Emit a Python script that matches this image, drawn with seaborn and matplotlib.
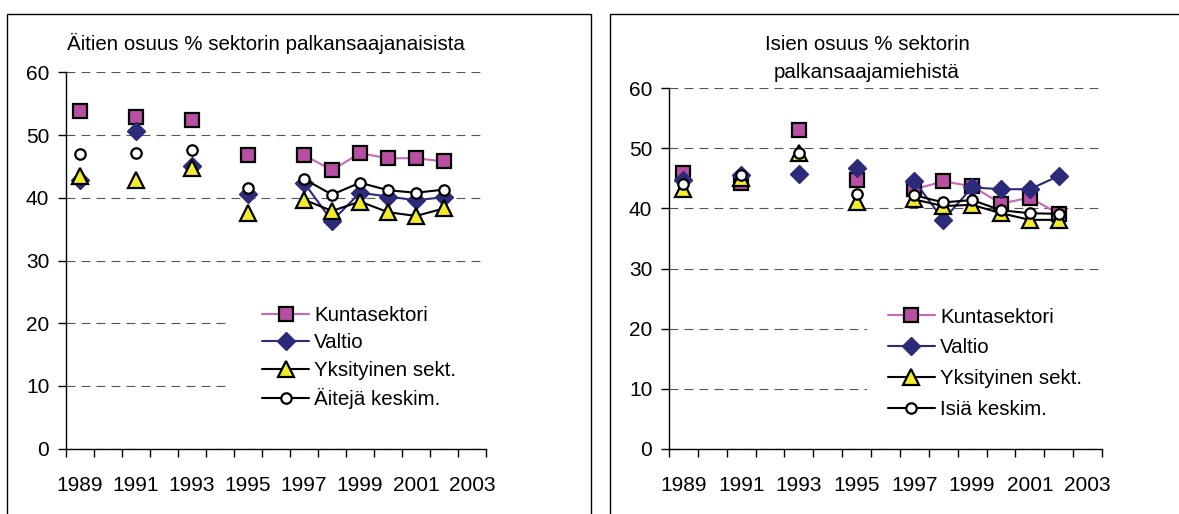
import numpy as np
import pandas as pd
import matplotlib
matplotlib.use("Agg")
import matplotlib.pyplot as plt
from matplotlib.lines import Line2D
from matplotlib.patches import Rectangle
from matplotlib.ticker import MultipleLocator, FixedLocator
import seaborn as sns

# ---------------- data ----------------
categories = list(range(1989, 2004))          # category axis 1989..2003
data_years = [1989, 1991, 1993, 1995, 1997, 1998, 1999, 2000, 2001, 2002]
tick_labels = ["1989", "1991", "1993", "1995", "1997", "1999", "2001", "2003"]

# Mothers (left panel)
kunta_aidit = [53.8, 52.8, 52.4, 46.8, 46.8, 44.4, 47.1, 46.3, 46.3, 45.8]
valtio_aidit = [42.9, 50.7, 45.1, 40.6, 42.4, 36.3, 40.8, 40.2, 39.6, 40.1]
yksit_aidit = [43.5, 42.8, 44.7, 37.5, 39.7, 37.9, 39.4, 37.7, 37.1, 38.3]
keskim_aidit = [46.9, 47.2, 47.6, 41.5, 43.0, 40.5, 42.4, 41.2, 40.8, 41.3]

# Fathers (right panel)
kunta_isat = [45.9, 44.3, 53.1, 44.7, 43.2, 44.5, 43.7, 40.8, 41.8, 39.1]
valtio_isat = [44.7, 45.6, 45.7, 46.7, 44.6, 38.1, 43.5, 43.2, 43.2, 45.4]
yksit_isat = [43.3, 45.0, 49.2, 41.1, 41.5, 40.4, 40.6, 39.2, 38.1, 38.1]
keskim_isat = [44.1, 45.6, 49.2, 42.4, 42.2, 41.0, 41.4, 39.7, 39.2, 39.1]

labels_left = ["Kuntasektori", "Valtio", "Yksityinen sekt.", "Äitejä keskim."]
labels_right = ["Kuntasektori", "Valtio", "Yksityinen sekt.", "Isiä keskim."]
title_left = "Äitien osuus % sektorin palkansaajanaisista"
title_right = "Isien osuus % sektorin\npalkansaajamiehistä"

# ---------------- styles ----------------
styles = [
    dict(color="#CC66BB", marker="s", markersize=10.5, markerfacecolor="#B94FA3",
         markeredgecolor="black", markeredgewidth=1.6, linewidth=1.5),
    dict(color="#2B2B7A", marker="D", markersize=9.5, markerfacecolor="#2B2B7A",
         markeredgecolor="#2B2B7A", markeredgewidth=1.0, linewidth=1.5),
    dict(color="black", marker="^", markersize=11, markerfacecolor="#F2EC2C",
         markeredgecolor="black", markeredgewidth=1.6, linewidth=1.5),
    dict(color="black", marker="o", markersize=7.5, markerfacecolor="white",
         markeredgecolor="black", markeredgewidth=1.6, linewidth=1.5),
]

sns.set_theme(style="white")
plt.rcParams["font.family"] = ["Liberation Sans", "DejaVu Sans"]
plt.rcParams["text.color"] = "black"
plt.rcParams["xtick.color"] = "black"
plt.rcParams["ytick.color"] = "black"

W, H = 1179, 514
fig = plt.figure(figsize=(W / 100, H / 100), dpi=100)
fig.patch.set_facecolor("white")


def fx(px):
    return px / W


def fy(py):
    return 1 - py / H


def draw_series(ax, values, style):
    df = pd.DataFrame({"year": data_years, "value": values})
    df["segment"] = (df["year"].diff() != 1).cumsum()
    sns.lineplot(data=df, x="year", y="value", units="segment", estimator=None,
                 ax=ax, legend=False, **style)


def setup_panel(ax_rect, series, labels, title, title_xy, legend_anchor, borderpad, labelspacing):
    ax = fig.add_axes(ax_rect)
    ax.set_facecolor("white")
    for vals, st in zip(series, styles):
        draw_series(ax, vals, st)

    ax.set_xlim(categories[0] - 0.5, categories[-1] + 0.5)
    ax.set_ylim(0, 60)
    ax.yaxis.set_major_locator(MultipleLocator(10))
    ax.xaxis.set_major_locator(FixedLocator([int(t) for t in tick_labels]))
    ax.set_xticklabels(tick_labels)
    ax.xaxis.set_minor_locator(FixedLocator([c - 0.5 for c in categories] + [categories[-1] + 0.5]))
    ax.tick_params(axis="x", which="major", length=0, pad=20, labelsize=15, colors="black")
    ax.tick_params(axis="x", which="minor", length=6, width=1, direction="out", color="black", bottom=True)
    ax.tick_params(axis="y", which="major", length=6, width=1, direction="out", pad=6,
                   labelsize=15, color="black", left=True, labelcolor="black")
    ax.set_xlabel("")
    ax.set_ylabel("")
    for side in ["top", "right"]:
        ax.spines[side].set_visible(False)
    for side in ["left", "bottom"]:
        ax.spines[side].set_color("black")
        ax.spines[side].set_linewidth(1)
    ax.set_axisbelow(True)
    ax.yaxis.grid(True, color="#555555", linewidth=0.8, linestyle=(0, (8, 5.5)))
    ax.xaxis.grid(False)

    handles = [Line2D([0], [0], **st) for st in styles]
    leg = ax.legend(handles, labels, loc="upper left", bbox_to_anchor=legend_anchor,
                    bbox_transform=fig.transFigure, frameon=True, facecolor="white",
                    edgecolor="none", framealpha=1, fancybox=False, borderpad=borderpad,
                    borderaxespad=0, handlelength=2.3, handletextpad=0.25,
                    labelspacing=labelspacing, fontsize=14.8, numpoints=1)
    leg.get_frame().set_linewidth(0)
    for t in leg.get_texts():
        t.set_color("black")

    fig.text(title_xy[0], title_xy[1], title, ha="center", va="center",
             fontsize=14.8, linespacing=1.6, color="black")
    return ax


# left panel
setup_panel([fx(66), fy(448.7), fx(486) - fx(66), fy(72.3) - fy(448.7)],
            [kunta_aidit, valtio_aidit, yksit_aidit, keskim_aidit], labels_left,
            title_left, (fx(265.5), fy(43)), (fx(230), fy(274)), 1.55, 0.41)

# right panel
setup_panel([fx(669), fy(448.7), fx(1102) - fx(669), fy(88.3) - fy(448.7)],
            [kunta_isat, valtio_isat, yksit_isat, keskim_isat], labels_right,
            title_right, (fx(867), fy(58)), (fx(867), fy(287)), 1.0, 0.58)

# outer chart borders (cut off at bottom / right as in the reference)
fig.add_artist(Rectangle((fx(7), -0.05), fx(591) - fx(7), fy(14) + 0.05,
                         transform=fig.transFigure, fill=False, edgecolor="black",
                         linewidth=1, clip_on=False))
fig.add_artist(Rectangle((fx(610), -0.05), 1.2 - fx(610), fy(14) + 0.05,
                         transform=fig.transFigure, fill=False, edgecolor="black",
                         linewidth=1, clip_on=False))

fig.savefig("out.png", dpi=100, facecolor="white")
